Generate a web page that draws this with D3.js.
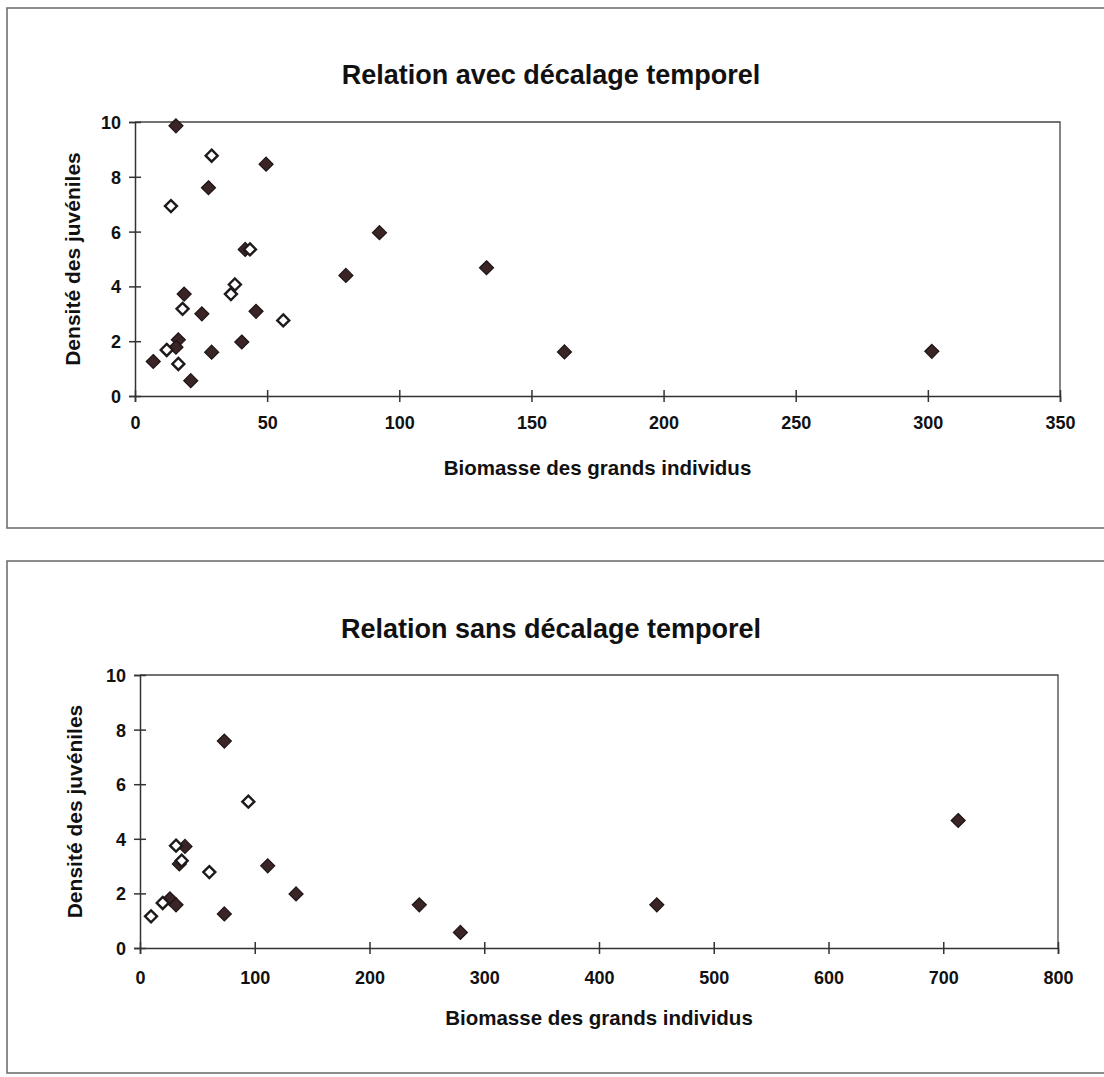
<!DOCTYPE html>
<html>
<head>
<meta charset="utf-8">
<script src="https://cdn.jsdelivr.net/npm/d3@7"></script>
<style>
  html, body { margin: 0; padding: 0; background: #fff; overflow: hidden; }
  svg { display: block; }
  text { font-family: "Liberation Sans", Arial, sans-serif; font-weight: bold; fill: #111; }
</style>
</head>
<body>
<svg id="chart" width="1104" height="1077"></svg>
<script>
// ---------- Data ----------
const titleTop = "Relation avec décalage temporel";
const titleBottom = "Relation sans décalage temporel";
const xAxisTitle = "Biomasse des grands individus";
const yAxisTitle = "Densité des juvéniles";

// Top chart (with time lag) – filled diamonds
const topFilledX = [15.5, 27.8, 49.6, 92.5, 79.8, 41.7, 18.6, 25.3, 45.8, 40.4, 29.0, 16.4, 15.5, 6.9, 21.1, 133.0, 162.5, 301.5];
const topFilledY = [9.86, 7.6, 8.46, 5.96, 4.4, 5.35, 3.72, 3.0, 3.09, 1.97, 1.6, 2.05, 1.78, 1.26, 0.56, 4.68, 1.61, 1.63];
// Top chart – open diamonds
const topOpenX = [29.0, 13.6, 43.5, 37.8, 36.3, 18.0, 56.1, 12.0, 16.4];
const topOpenY = [8.77, 6.93, 5.35, 4.07, 3.72, 3.18, 2.76, 1.68, 1.17];

// Bottom chart (without time lag) – filled diamonds
const botFilledX = [73.5, 39.2, 34.3, 111.3, 136.0, 243.4, 73.5, 26.1, 31.4, 279.2, 450.4, 713.0];
const botFilledY = [7.58, 3.72, 3.08, 3.01, 1.98, 1.58, 1.25, 1.80, 1.58, 0.57, 1.58, 4.67];
// Bottom chart – open diamonds
const botOpenX = [94.4, 31.4, 36.3, 60.4, 19.8, 9.6];
const botOpenY = [5.36, 3.75, 3.2, 2.78, 1.65, 1.16];

const topXTicks = [0, 50, 100, 150, 200, 250, 300, 350];
const botXTicks = [0, 100, 200, 300, 400, 500, 600, 700, 800];
const yTicks = [0, 2, 4, 6, 8, 10];

// ---------- Drawing ----------
const svg = d3.select("#chart");

function drawPanel(cfg) {
  const g = svg.append("g");
  // outer frame (right edge lies beyond the picture)
  g.append("rect")
    .attr("x", cfg.frame[0]).attr("y", cfg.frame[1])
    .attr("width", cfg.frame[2]).attr("height", cfg.frame[3])
    .attr("fill", "none").attr("stroke", "#707070").attr("stroke-width", 1.6);

  const x = d3.scaleLinear().domain([0, cfg.xMax]).range([cfg.left, cfg.right]);
  const y = d3.scaleLinear().domain([0, 10]).range([cfg.bottom, cfg.top]);

  // plot border (top & right)
  g.append("path")
    .attr("d", `M${cfg.left},${cfg.top}H${cfg.right}V${cfg.bottom}`)
    .attr("fill", "none").attr("stroke", "#444").attr("stroke-width", 1.3);

  const fontSet = sel => sel
    .style("font-size", "18px")
    .style("font-family", '"Liberation Sans", Arial, sans-serif')
    .style("font-weight", "bold")
    .attr("fill", "#111");

  // x axis
  const xa = g.append("g").attr("transform", `translate(0,${cfg.bottom})`)
    .call(d3.axisBottom(x).tickValues(cfg.xTicks).tickSize(6).tickPadding(0).tickFormat(d3.format("d")));
  xa.select(".domain").attr("stroke", "#333").attr("stroke-width", 1.5);
  xa.selectAll(".tick line").attr("y1", -6).attr("y2", 6).attr("stroke", "#333").attr("stroke-width", 1.5);
  fontSet(xa.selectAll(".tick text").attr("y", cfg.xLabelDy).attr("dy", 0));

  // y axis
  const ya = g.append("g").attr("transform", `translate(${cfg.left},0)`)
    .call(d3.axisLeft(y).tickValues(yTicks).tickSize(6).tickPadding(0));
  ya.select(".domain").attr("stroke", "#333").attr("stroke-width", 1.5);
  ya.selectAll(".tick line").attr("x1", -6).attr("x2", 6).attr("stroke", "#333").attr("stroke-width", 1.5);
  fontSet(ya.selectAll(".tick text").attr("x", -14).attr("dy", "0.36em"));

  // titles
  g.append("text").attr("x", cfg.titleX).attr("y", cfg.titleY)
    .attr("text-anchor", "middle").style("font-size", "27px").text(cfg.title);
  g.append("text").attr("x", (cfg.left + cfg.right) / 2).attr("y", cfg.xTitleY)
    .attr("text-anchor", "middle").style("font-size", "20.5px").text(xAxisTitle);
  g.append("text")
    .attr("transform", `translate(${cfg.yTitleX},${(cfg.top + cfg.bottom) / 2}) rotate(-90)`)
    .attr("text-anchor", "middle").style("font-size", "21px").text(yAxisTitle);

  const diamondPath = s => `M0,${-s}L${s},0L0,${s}L${-s},0Z`;

  // filled series
  g.append("g").selectAll("path")
    .data(cfg.filledX.map((v, i) => [v, cfg.filledY[i]]))
    .join("path")
    .attr("d", diamondPath(7))
    .attr("transform", d => `translate(${x(d[0])},${y(d[1])})`)
    .attr("fill", "#3a2426").attr("stroke", "#1c1415").attr("stroke-width", 1.2);

  // open series
  g.append("g").selectAll("path")
    .data(cfg.openX.map((v, i) => [v, cfg.openY[i]]))
    .join("path")
    .attr("d", diamondPath(6))
    .attr("transform", d => `translate(${x(d[0])},${y(d[1])})`)
    .attr("fill", "#fff").attr("stroke", "#1f1a1a").attr("stroke-width", 2.4);
}

drawPanel({
  frame: [7, 8, 1140, 520],
  left: 135, right: 1060, top: 122, bottom: 396,
  xMax: 350, xTicks: topXTicks, xLabelDy: 33,
  title: titleTop, titleX: 551, titleY: 84,
  xTitleY: 475, yTitleX: 80,
  filledX: topFilledX, filledY: topFilledY,
  openX: topOpenX, openY: topOpenY
});

drawPanel({
  frame: [7, 561, 1140, 512],
  left: 140, right: 1058, top: 675, bottom: 948,
  xMax: 800, xTicks: botXTicks, xLabelDy: 36,
  title: titleBottom, titleX: 551, titleY: 638,
  xTitleY: 1025, yTitleX: 82,
  filledX: botFilledX, filledY: botFilledY,
  openX: botOpenX, openY: botOpenY
});
</script>
</body>
</html>
